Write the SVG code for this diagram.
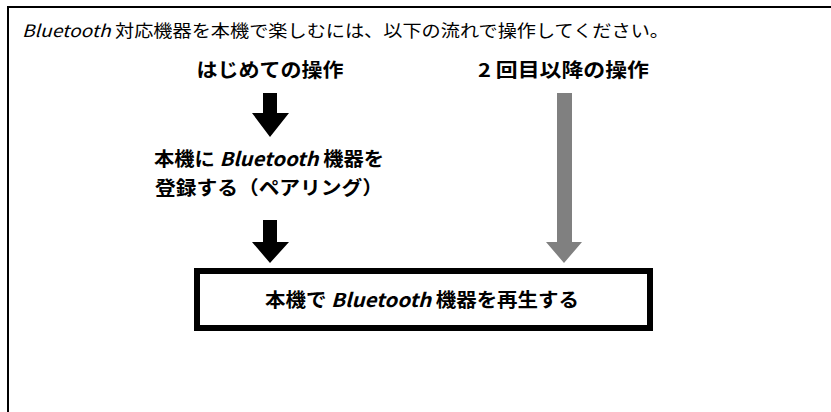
<svg xmlns="http://www.w3.org/2000/svg" width="831" height="412" viewBox="0 0 831 412">
<style>
text{font-family:"Noto Sans CJK JP","Noto Sans",sans-serif;fill:#000}
.h{font-size:17px;font-weight:400}
.b{font-size:19px;font-weight:700}
.i{font-style:italic}
.blk{fill:#000}
.gry{fill:#808080}
</style>
<rect width="831" height="412" fill="#fff"/>
<path d="M8,412 V7 H831" fill="none" stroke="#000" stroke-width="2"/>
<g id="intro"><text class="h" x="22" y="37" textLength="647" lengthAdjust="spacingAndGlyphs"><tspan class="i">Bluetooth</tspan> 対応機器を本機で楽しむには、以下の流れで操作してください。</text></g>
<g id="first-time"><text class="b" x="270" y="77" text-anchor="middle" textLength="147" lengthAdjust="spacingAndGlyphs">はじめての操作</text></g>
<g id="second-time"><text class="b" x="563.5" y="77" text-anchor="middle" textLength="171" lengthAdjust="spacingAndGlyphs">2 回目以降の操作</text></g>
<g id="pairing">
<text class="b" x="269" y="166" text-anchor="middle" textLength="230" lengthAdjust="spacingAndGlyphs">本機に <tspan class="i">Bluetooth</tspan> 機器を</text>
<text class="b" x="269" y="195" text-anchor="middle" textLength="228" lengthAdjust="spacingAndGlyphs">登録する（ペアリング）</text>
</g>
<g id="play">
<rect x="197" y="271" width="453" height="57" fill="#fff" stroke="#000" stroke-width="6"/>
<text class="b" x="422" y="307" text-anchor="middle" textLength="314" lengthAdjust="spacingAndGlyphs">本機で <tspan class="i">Bluetooth</tspan> 機器を再生する</text>
</g>
<g id="connectors">
<polygon class="blk" points="263,93 277,93 277,113 289,113 270,137 252,113 263,113"/>
<polygon class="blk" points="263,220 277,220 277,242 289,242 270,263 252,242 263,242"/>
<polygon class="gry" points="557,93 572,93 572,242 582,242 564,263 546,242 557,242"/>
</g>
</svg>
